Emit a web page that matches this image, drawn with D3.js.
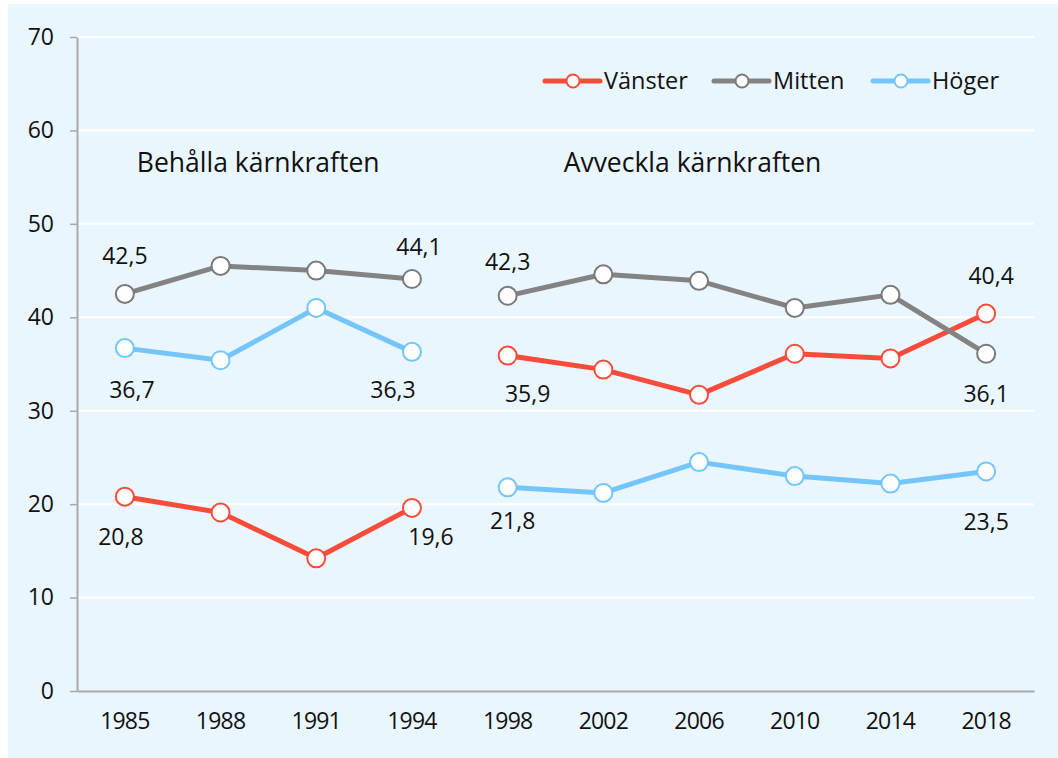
<!DOCTYPE html>
<html>
<head>
<meta charset="utf-8">
<script src="https://cdn.jsdelivr.net/npm/d3@7"></script>
<style>
  body { margin: 0; background: #fff; }
  svg { display: block; font-family: "Open Sans", "Noto Sans", sans-serif; }
</style>
</head>
<body>
<svg id="chart" width="1058" height="758"></svg>
<script>
// ----- data
const years = ['1985', '1988', '1991', '1994', '1998', '2002', '2006', '2010', '2014', '2018'];
const vanster = [20.8, 19.1, 14.2, 19.6, 35.9, 34.4, 31.7, 36.1, 35.6, 40.4];
const mitten = [42.5, 45.5, 45.0, 44.1, 42.3, 44.6, 43.9, 41.0, 42.4, 36.1];
const hoger = [36.7, 35.4, 41.0, 36.3, 21.8, 21.2, 24.5, 23.0, 22.2, 23.5];
const yTicks = [0, 10, 20, 30, 40, 50, 60, 70];
const periods = [['1985', '1994'], ['1998', '2018']];
const periodTitles = ['Behålla kärnkraften', 'Avveckla kärnkraften'];

const series = [
    { name: 'Vänster', values: vanster, color: '#f84c3b', ring: '#f84c3b' },
    { name: 'Mitten', values: mitten, color: '#838383', ring: '#7a7a7a' },
    { name: 'Höger', values: hoger, color: '#74c5fc', ring: '#74c5fc' },
];

// value labels: series index, year, offset from the point
const valueLabels = [
    { s: 1, year: '1985', dx: 0, dy: -30 },
    { s: 2, year: '1985', dx: 7, dy: 50 },
    { s: 0, year: '1985', dx: -4, dy: 48 },
    { s: 1, year: '1994', dx: 7, dy: -24 },
    { s: 2, year: '1994', dx: -19, dy: 46 },
    { s: 0, year: '1994', dx: 19, dy: 37 },
    { s: 1, year: '1998', dx: 0, dy: -26 },
    { s: 0, year: '1998', dx: 20, dy: 46 },
    { s: 2, year: '1998', dx: 5, dy: 42 },
    { s: 0, year: '2018', dx: 5, dy: -30 },
    { s: 1, year: '2018', dx: 0, dy: 48 },
    { s: 2, year: '2018', dx: 0, dy: 59 },
];

const svg = d3.select('#chart');
const margin = { top: 37, right: 24, bottom: 67, left: 77 };
const width = 1058, height = 758;
const font = '"Open Sans", "Noto Sans", sans-serif';

// background panel
svg.append('rect')
    .attr('x', 8).attr('y', 4)
    .attr('width', width - 8).attr('height', height - 4)
    .attr('fill', '#eaf6fd');

const x = d3.scaleBand()
    .domain(years)
    .range([margin.left, width - margin.right]);

const y = d3.scaleLinear()
    .domain([0, 70])
    .range([height - margin.bottom, margin.top]);

const cx = yr => x(yr) + x.bandwidth() / 2;

// ----- grid
svg.append('g')
    .selectAll('line')
    .data(yTicks.filter(t => t > 0))
    .join('line')
    .attr('x1', margin.left).attr('x2', width - margin.right)
    .attr('y1', d => y(d)).attr('y2', d => y(d))
    .attr('stroke', '#fff')
    .attr('stroke-width', 2);

// ----- y axis
const yAxis = svg.append('g')
    .attr('transform', `translate(${margin.left},0)`)
    .call(d3.axisLeft(y).tickValues(yTicks).tickSize(7).tickPadding(16).tickSizeOuter(0))
    .attr('font-family', font);
yAxis.select('.domain').attr('stroke', '#a9a9a9').attr('stroke-width', 2);
yAxis.selectAll('.tick line').attr('stroke', '#a9a9a9').attr('stroke-width', 1.5);
yAxis.selectAll('.tick text').attr('font-size', 23).attr('font-weight', 500).attr('fill', '#111');

// ----- x axis
const xAxis = svg.append('g')
    .attr('transform', `translate(0,${height - margin.bottom})`)
    .call(d3.axisBottom(x).tickSize(0).tickPadding(22).tickSizeOuter(0))
    .attr('font-family', font);
xAxis.select('.domain').attr('stroke', '#a9a9a9').attr('stroke-width', 2);
xAxis.selectAll('.tick text').attr('font-size', 23).attr('letter-spacing', -0.8).attr('fill', '#111');

// ----- lines and points
const line = d3.line()
    .x(d => cx(d.year))
    .y(d => y(d.value));

series.forEach(s => {
    const pts = years.map((year, i) => ({ year, value: s.values[i] }));
    periods.forEach(([a, b]) => {
        const seg = pts.filter(p => +p.year >= +a && +p.year <= +b);
        svg.append('path')
            .datum(seg)
            .attr('d', line)
            .attr('fill', 'none')
            .attr('stroke', s.color)
            .attr('stroke-width', 5)
            .attr('stroke-linejoin', 'round');
    });
    svg.append('g')
        .selectAll('circle')
        .data(pts)
        .join('circle')
        .attr('cx', d => cx(d.year))
        .attr('cy', d => y(d.value))
        .attr('r', 9)
        .attr('fill', '#fff')
        .attr('stroke', s.ring)
        .attr('stroke-width', 2);
});

// ----- value labels
const fmt = v => d3.format('.1f')(v).replace('.', ',');
svg.append('g')
    .selectAll('text')
    .data(valueLabels)
    .join('text')
    .attr('x', d => cx(d.year) + d.dx)
    .attr('y', d => y(series[d.s].values[years.indexOf(d.year)]) + d.dy)
    .attr('text-anchor', 'middle')
    .attr('font-size', 23)
    .attr('fill', '#111')
    .text(d => fmt(series[d.s].values[years.indexOf(d.year)]));

// ----- period titles
svg.append('text')
    .attr('x', cx('1985') + 12).attr('y', 172)
    .attr('font-size', 26.5).attr('fill', '#111')
    .text(periodTitles[0]);
svg.append('text')
    .attr('x', cx('1998') + 56).attr('y', 172)
    .attr('font-size', 26.5).attr('fill', '#111')
    .text(periodTitles[1]);

// ----- legend
const legendX = [545, 714, 873];
const legend = svg.append('g')
    .selectAll('g')
    .data(series)
    .join('g')
    .attr('transform', (d, i) => `translate(${legendX[i]},81)`);
legend.append('line')
    .attr('x1', 0).attr('x2', 55)
    .attr('stroke', d => d.color).attr('stroke-width', 5)
    .attr('stroke-linecap', 'round');
legend.append('circle')
    .attr('cx', 28).attr('r', 6.5)
    .attr('fill', '#fff')
    .attr('stroke', d => d.ring).attr('stroke-width', 2);
legend.append('text')
    .attr('x', 59).attr('y', 8)
    .attr('font-size', 23.5).attr('fill', '#111')
    .text(d => d.name);
</script>
</body>
</html>
